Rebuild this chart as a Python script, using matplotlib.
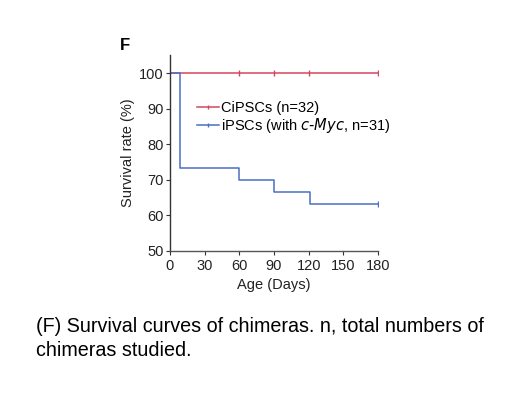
import matplotlib
matplotlib.use("Agg")
import matplotlib.pyplot as plt
from matplotlib.lines import Line2D

# Data
ci_days = [0, 180]
ci_surv = [100, 100]
ci_censor_days = [60, 90, 120, 180]
ci_censor_surv = [100, 100, 100, 100]

ips_days = [0, 9, 60, 90, 121, 180]
ips_surv = [100, 73.3, 70.0, 66.7, 63.3, 63.3]
ips_censor_days = [180]
ips_censor_surv = [63.3]

x_ticks = [0, 30, 60, 90, 120, 150, 180]
y_ticks = [50, 60, 70, 80, 90, 100]

red = "#d4465f"
blue = "#4b6fc4"

plt.rcParams['font.family'] = ['Liberation Sans', 'DejaVu Sans']

fig = plt.figure(figsize=(5.29, 3.97), dpi=100)
ax = fig.add_axes([170/529, 1-251/397, 208/529, 196/397])

ax.step(ci_days, ci_surv, where='post', color=red, lw=1.1)
ax.plot(ci_censor_days, ci_censor_surv, ls='none', marker='|', color=red, ms=4, mew=1)
ax.step(ips_days, ips_surv, where='post', color=blue, lw=1.1)
ax.plot(ips_censor_days, ips_censor_surv, ls='none', marker='|', color=blue, ms=4, mew=1)

ax.set_xlim(0, 180)
ax.set_ylim(50, 105.1)
ax.set_xticks(x_ticks)
ax.set_yticks(y_ticks)
ax.tick_params(labelsize=10.5, length=3, width=0.8, colors='#333333', labelcolor='#222222')
ax.tick_params(axis='x', pad=3)
ax.tick_params(axis='y', pad=1.5)
for s in ['top', 'right']:
    ax.spines[s].set_visible(False)
for s in ['left', 'bottom']:
    ax.spines[s].set_color('#555555')
    ax.spines[s].set_linewidth(1.0)
ax.spines['left'].set_color('#333333')

ax.set_xlabel('Age (Days)', fontsize=10.5, labelpad=3, color='#222222')
ax.set_ylabel('Survival rate (%)', fontsize=10.5, labelpad=3, color='#222222')

h1 = Line2D([0], [0], color=red, lw=1.1, marker='|', ms=3, mew=1)
h2 = Line2D([0], [0], color=blue, lw=1.1, marker='|', ms=3, mew=1)
leg = ax.legend([h1, h2], ['CiPSCs (n=32)', 'iPSCs (with $\\it{c\\text{-}Myc}$, n=31)'],
                loc='upper left', bbox_to_anchor=(0.13, 0.765), frameon=False,
                fontsize=10.5, handlelength=1.5, handletextpad=0.15, labelspacing=0.05,
                borderaxespad=0, borderpad=0)

fig.text(120/529, 1-46/397, 'F', fontsize=12, fontweight='bold', ha='left', va='center')

fig.text(36/529, 1-327/397, '(F) Survival curves of chimeras. n, total numbers of',
         fontsize=14.2, ha='left', va='center')
fig.text(36/529, 1-350/397, 'chimeras studied.', fontsize=14.2, ha='left', va='center')

fig.savefig('out.png', dpi=100)
